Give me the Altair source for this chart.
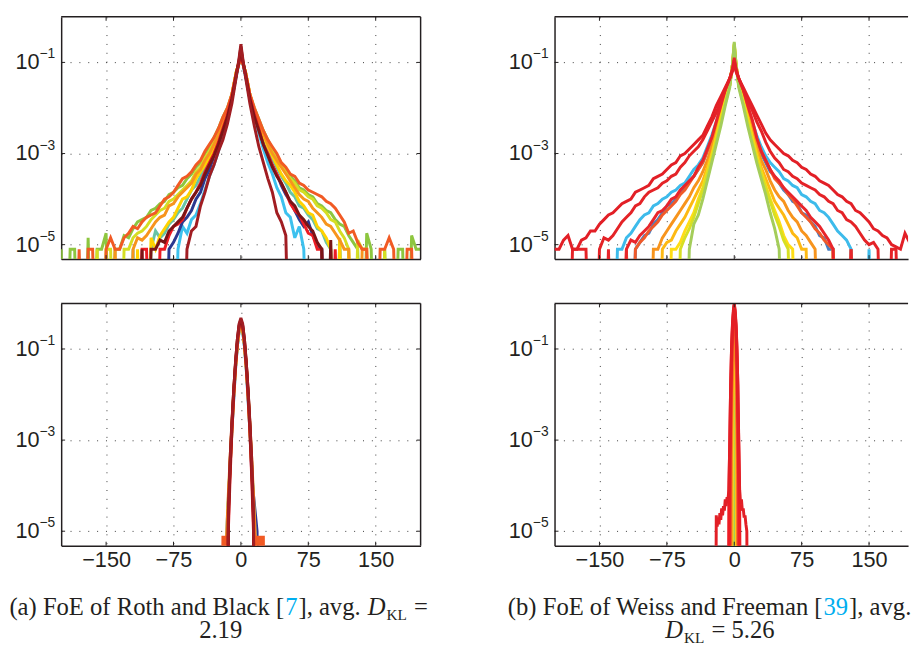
import altair as alt
import pandas as pd

FONT = "Liberation Sans"
SERIF = "Liberation Serif"
INK = "#231F20"
GRID = "#3a3a3a"
CYAN = "#00AEEF"

X_TICKS = [-150, -75, 0, 75, 150]
Y_TICKS = [1e-1, 1e-3, 1e-5]
Y_EXPONENTS = ["\u22121", "\u22123", "\u22125"]
Y_DOMAIN = [10 ** -5.317, 1.0]

# distance from the centre (both sides) for the two upper panels
XG = [2, 5, 10, 15, 20, 25, 30, 35, 40, 45, 50, 55, 60, 65, 70, 75, 80, 85, 90, 95, 100,
      105, 110, 115, 120, 125, 130, 135, 140, 145, 150, 155, 160, 165, 170, 175, 180, 185, 190, 195, 200]

# ---------------- (a) upper: log10 density ----------------
TL_COLORS = ["#3DC1EE", "#2B3990", "#67C4A6", "#FFD200", "#8DC63F", "#D5DE23",
             "#F7941D", "#F15A24", "#ED1C24", "#7A1416", "#A11D22"]
TL_PEAK = [-0.8, -0.8, -0.8, -0.8, -0.8, -0.8, -0.8, -0.75, -0.7, -0.65, -0.6]
TL_LEFT = [
    [-1.0, -1.3, -1.8, -2.25, -2.6, -2.95, -3.25, -3.5, -3.8, -4.1, -4.35, -4.45, -4.75, -4.6, -5.1, -9],
    [-1.0, -1.25, -1.8, -2.2, -2.5, -2.8, -3.05, -3.35, -3.55, -3.85, -4.0, -4.25, -4.4, -4.5, -4.75, -4.95, -5.1, -9],
    [-1.0, -1.25, -1.75, -2.1, -2.4, -2.7, -2.9, -3.15, -3.3, -3.5, -3.7, -3.8, -4.0, -4.2, -4.3, -4.45, -4.55,
     -4.75, -4.85, -4.7, -5.1, -9, -9, -9, -5.1, -9],
    [-1.0, -1.2, -1.75, -2.1, -2.35, -2.65, -2.85, -3.1, -3.25, -3.4, -3.55, -3.8, -3.95, -4.0, -4.2, -4.4, -4.5,
     -4.65, -4.8, -5.1, -4.85, -9, -9, -5.1, -9],
    [-1.0, -1.2, -1.7, -2.0, -2.2, -2.45, -2.65, -2.85, -3.0, -3.2, -3.3, -3.45, -3.55, -3.7, -3.75, -3.85, -3.9,
     -4.05, -4.1, -4.2, -4.25, -4.4, -4.45, -4.5, -4.65, -4.85, -4.8, -5.1, -5.1, -9, -4.75, -5.1, -5.1, -9,
     -4.85, -9, -9, -5.1, -5.1, -9, -5.1],
    [-1.0, -1.2, -1.7, -2.05, -2.3, -2.55, -2.75, -2.95, -3.1, -3.3, -3.4, -3.6, -3.7, -3.8, -3.9, -4.0, -4.05,
     -4.2, -4.25, -4.35, -4.45, -4.6, -4.7, -4.75, -4.85, -5.1, -5.1, -9, -9, -5.1, -5.1, -9, -5.1, -9],
    [-1.0, -1.2, -1.7, -2.05, -2.3, -2.6, -2.8, -3.0, -3.15, -3.35, -3.45, -3.65, -3.75, -3.85, -3.95, -4.1,
     -4.15, -4.35, -4.4, -4.5, -4.65, -4.8, -4.9, -4.85, -5.1, -9, -9, -9, -5.1, -9],
    [-1.0, -1.2, -1.7, -2.0, -2.2, -2.45, -2.65, -2.8, -2.95, -3.15, -3.25, -3.4, -3.5, -3.55, -3.7, -3.85,
     -3.95, -4.0, -4.15, -4.3, -4.35, -4.4, -4.5, -4.65, -4.6, -4.75, -4.85, -5.1, -5.1, -4.85, -5.1, -9, -9,
     -5.1, -5.1, -9, -5.1, -9],
    [-1.0, -1.25, -1.75, -2.15, -2.45, -2.75, -3.0, -3.2, -3.4, -3.65, -3.85, -4.0, -4.2, -4.45, -4.55, -4.6,
     -4.8, -5.1, -5.1, -9, -9, -5.1, -5.1, -9],
    [-0.95, -1.25, -1.8, -2.2, -2.5, -2.8, -3.05, -3.25, -3.45, -3.7, -3.85, -4.0, -4.2, -4.4, -4.5, -4.6,
     -4.7, -4.95, -4.9, -5.1, -5.1, -9, -5.1, -9],
    [-0.9, -1.3, -1.9, -2.35, -2.7, -2.95, -3.25, -3.5, -3.85, -4.15, -4.6, -4.7, -5.1, -9],
]
TL_RIGHT = [
    [-1.0, -1.3, -1.8, -2.2, -2.55, -2.9, -3.2, -3.45, -3.75, -3.95, -4.3, -4.4, -4.85, -4.6, -5.1, -9, -9, -9,
     -5.1, -9, -9, -9, -5.1, -9],
    [-1.0, -1.25, -1.75, -2.15, -2.45, -2.75, -3.0, -3.25, -3.45, -3.7, -3.9, -4.05, -4.25, -4.45, -4.6, -4.5,
     -4.8, -5.0, -5.1, -9],
    [-1.0, -1.25, -1.75, -2.1, -2.4, -2.65, -2.9, -3.1, -3.3, -3.5, -3.65, -3.85, -3.95, -4.15, -4.2, -4.35,
     -4.45, -4.65, -4.7, -4.95, -5.1, -9, -4.9, -9],
    [-1.0, -1.2, -1.75, -2.1, -2.35, -2.6, -2.85, -3.05, -3.25, -3.45, -3.6, -3.7, -3.85, -4.05, -4.15, -4.3,
     -4.35, -4.6, -4.7, -4.85, -5.1, -9, -4.85, -9, -5.1, -9],
    [-1.0, -1.2, -1.7, -2.0, -2.25, -2.5, -2.7, -2.9, -3.05, -3.25, -3.35, -3.5, -3.6, -3.75, -3.8, -3.9, -3.95,
     -4.1, -4.15, -4.25, -4.3, -4.45, -4.55, -4.6, -4.8, -4.95, -5.1, -9, -4.75, -5.1, -9, -9, -5.1, -9, -9,
     -5.1, -5.1, -9, -4.8, -5.1, -5.1],
    [-1.0, -1.2, -1.7, -2.05, -2.3, -2.5, -2.75, -2.95, -3.1, -3.25, -3.4, -3.55, -3.65, -3.8, -3.85, -3.95,
     -4.0, -4.15, -4.2, -4.3, -4.45, -4.5, -4.7, -4.85, -5.1, -9, -4.9, -5.1, -5.1, -9, -9, -9, -5.1, -9],
    [-1.0, -1.2, -1.7, -2.05, -2.3, -2.55, -2.8, -3.0, -3.15, -3.3, -3.45, -3.6, -3.75, -3.9, -4.0, -4.05,
     -4.2, -4.3, -4.4, -4.55, -4.6, -4.75, -4.9, -5.1, -5.1, -9, -9, -5.1, -5.1, -9],
    [-1.0, -1.2, -1.7, -2.0, -2.25, -2.5, -2.7, -2.85, -3.0, -3.2, -3.3, -3.45, -3.5, -3.65, -3.7, -3.8, -3.85,
     -3.9, -3.95, -4.05, -4.1, -4.2, -4.35, -4.5, -4.75, -4.7, -4.95, -5.1, -5.1, -9, -9, -5.1, -5.1, -4.85,
     -5.1, -9, -9, -5.1, -5.1, -9, -9],
    [-1.0, -1.25, -1.75, -2.15, -2.45, -2.8, -3.0, -3.25, -3.45, -3.65, -3.85, -4.1, -4.25, -4.35, -4.55,
     -4.75, -4.8, -5.1, -5.1, -9, -9, -5.1, -9],
    [-0.95, -1.25, -1.8, -2.2, -2.5, -2.8, -3.05, -3.3, -3.5, -3.65, -3.85, -4.05, -4.15, -4.35, -4.45, -4.6,
     -4.7, -4.95, -5.1, -9, -4.9, -9],
    [-0.9, -1.3, -1.9, -2.4, -2.85, -3.2, -3.55, -3.85, -4.3, -4.5, -4.8, -9],
]

# ---------------- (b) upper ----------------
TR_COLORS = ["#4A7FC1", "#3DBBEB", "#F15A29", "#F7941D", "#FDB913", "#FFDD15",
             "#D7DF23", "#A4CD5A", "#E8252B", "#E42327", "#E21F26"]
TR_PEAK = [-0.8, -0.8, -0.75, -0.7, -0.62, -0.6, -0.58, -0.55, -0.9, -0.95, -1.0]
TR_LEFT = [
    [-1.1, -1.45, -1.75, -2.05, -2.4, -2.7, -2.95, -3.2, -3.35, -3.5, -3.6, -3.75, -3.85, -4.0, -4.1, -4.15,
     -4.3, -4.45, -4.55, -4.75, -4.8, -4.95, -5.1, -9],
    [-1.1, -1.4, -1.7, -2.0, -2.3, -2.6, -2.85, -3.1, -3.25, -3.35, -3.5, -3.65, -3.7, -3.8, -3.85, -3.95,
     -4.0, -4.1, -4.15, -4.3, -4.35, -4.45, -4.6, -4.75, -4.85, -5.1, -5.1, -9],
    [-1.1, -1.45, -1.75, -2.05, -2.35, -2.7, -2.95, -3.2, -3.35, -3.5, -3.65, -3.8, -3.9, -4.05, -4.15, -4.25,
     -4.35, -4.5, -4.6, -4.7, -4.85, -4.95, -5.1, -9, -5.1, -9],
    [-1.05, -1.45, -1.8, -2.15, -2.5, -2.85, -3.15, -3.4, -3.6, -3.75, -3.95, -4.1, -4.25, -4.4, -4.55, -4.7,
     -4.85, -5.1, -5.1, -9],
    [-1.05, -1.5, -1.85, -2.2, -2.6, -3.0, -3.3, -3.6, -3.8, -4.0, -4.2, -4.4, -4.55, -4.7, -4.9, -4.95, -5.1, -9],
    [-1.05, -1.5, -1.85, -2.25, -2.65, -3.05, -3.4, -3.75, -4.0, -4.3, -4.5, -4.7, -4.95, -5.1, -5.1, -9],
    [-1.05, -1.5, -1.9, -2.3, -2.7, -3.1, -3.45, -3.8, -4.1, -4.4, -4.65, -4.85, -5.1, -9],
    [-1.05, -1.55, -1.95, -2.4, -2.8, -3.2, -3.6, -4.0, -4.35, -4.55, -5.1, -9],
    [-1.15, -1.35, -1.6, -1.95, -2.3, -2.65, -2.9, -3.15, -3.3, -3.5, -3.6, -3.7, -3.8, -3.95, -4.0, -4.15,
     -4.25, -4.3, -4.45, -4.6, -4.7, -4.8, -4.95, -4.9, -5.1, -9, -9, -9, -5.1, -9],
    [-1.15, -1.35, -1.6, -1.85, -2.1, -2.3, -2.5, -2.7, -2.85, -2.95, -3.05, -3.2, -3.3, -3.45, -3.5, -3.6,
     -3.65, -3.75, -3.8, -3.85, -3.95, -4.1, -4.15, -4.3, -4.4, -4.5, -4.65, -4.8, -4.9, -4.85, -5.1, -9, -9,
     -5.1, -5.1, -5.1, -5.1, -9],
    [-1.2, -1.35, -1.55, -1.75, -1.95, -2.2, -2.4, -2.6, -2.7, -2.8, -2.9, -3.0, -3.05, -3.2, -3.25, -3.35,
     -3.45, -3.5, -3.55, -3.7, -3.75, -3.8, -3.85, -4.0, -4.05, -4.1, -4.2, -4.3, -4.35, -4.45, -4.55, -4.7,
     -4.7, -4.85, -4.9, -5.1, -5.1, -4.8, -4.9, -5.1, -5.1],
]
TR_RIGHT = [
    [-1.1, -1.45, -1.75, -2.05, -2.4, -2.75, -3.0, -3.2, -3.4, -3.5, -3.65, -3.8, -3.9, -4.05, -4.1, -4.3,
     -4.35, -4.5, -4.6, -4.8, -4.85, -5.1, -5.1, -9, -9, -9, -5.1, -9],
    [-1.1, -1.4, -1.7, -2.0, -2.3, -2.6, -2.85, -3.05, -3.2, -3.3, -3.4, -3.55, -3.6, -3.7, -3.75, -3.9,
     -3.95, -4.05, -4.1, -4.25, -4.3, -4.4, -4.55, -4.7, -4.8, -4.9, -5.1, -9, -9, -9, -5.1, -9],
    [-1.1, -1.45, -1.75, -2.05, -2.35, -2.7, -2.95, -3.15, -3.35, -3.55, -3.65, -3.75, -3.9, -4.0, -4.15,
     -4.3, -4.4, -4.5, -4.65, -4.75, -4.9, -5.0, -5.1, -9, -9, -9, -5.1, -9],
    [-1.05, -1.45, -1.8, -2.15, -2.5, -2.85, -3.15, -3.35, -3.6, -3.8, -3.95, -4.05, -4.25, -4.4, -4.5, -4.7,
     -4.8, -4.95, -5.1, -9, -9, -9, -5.1, -9],
    [-1.05, -1.5, -1.85, -2.2, -2.6, -2.95, -3.3, -3.55, -3.8, -4.05, -4.2, -4.35, -4.55, -4.75, -4.85, -5.1,
     -5.1, -9],
    [-1.05, -1.5, -1.85, -2.25, -2.65, -3.05, -3.4, -3.7, -4.0, -4.25, -4.5, -4.8, -5.0, -5.1, -9],
    [-1.05, -1.5, -1.9, -2.3, -2.7, -3.1, -3.45, -3.75, -4.05, -4.35, -4.6, -4.9, -5.1, -9],
    [-1.05, -1.55, -1.95, -2.4, -2.8, -3.2, -3.55, -3.9, -4.3, -4.65, -5.1, -9],
    [-1.15, -1.35, -1.6, -1.95, -2.25, -2.65, -2.95, -3.15, -3.35, -3.5, -3.6, -3.75, -3.85, -3.95, -4.05,
     -4.15, -4.25, -4.4, -4.5, -4.6, -4.75, -4.9, -5.1, -9, -9, -9, -5.1, -9],
    [-1.15, -1.35, -1.6, -1.85, -2.05, -2.3, -2.5, -2.75, -2.95, -3.1, -3.2, -3.35, -3.4, -3.5, -3.55, -3.65,
     -3.7, -3.75, -3.8, -3.9, -3.95, -4.05, -4.1, -4.25, -4.3, -4.45, -4.5, -4.6, -4.75, -4.9, -5.0, -4.95,
     -5.1, -9, -9, -5.1, -5.1, -9],
    [-1.2, -1.35, -1.55, -1.75, -1.95, -2.15, -2.35, -2.55, -2.7, -2.8, -2.9, -3.0, -3.05, -3.15, -3.2, -3.3,
     -3.35, -3.45, -3.5, -3.6, -3.65, -3.7, -3.8, -3.9, -3.95, -4.05, -4.1, -4.25, -4.3, -4.4, -4.5, -4.65,
     -4.7, -4.8, -4.85, -5.0, -5.05, -5.1, -4.75, -4.95, -5.1],
]

# ---------------- (a) lower ----------------
BL_COLORS = ["#2E3192", "#3DC1EE", "#C8D92B", "#FFD200", "#F7941D", "#F15A24", "#ED1C24", "#7A1416", "#A11D22"]
BL_X = [
    [-16, -14, -12, -10, -8, -6, -4, -2, 0, 2, 4, 6, 8, 10, 12, 14, 16, 18, 20],
    [-18, -16, -14, -12, -10, -8, -6, -4, -2, 0, 2, 4, 6, 8, 10, 12, 14, 16, 18],
    [-16, -14, -12, -10, -8, -6, -4, -2, 0, 2, 4, 6, 8, 10, 12, 14, 16],
    [-16, -14, -12, -10, -8, -6, -4, -2, 0, 2, 4, 6, 8, 10, 12, 14, 16],
    [-17, -16, -14, -12, -10, -8, -6, -4, -2, 0, 2, 4, 6, 8, 10, 12, 14, 16, 17],
    [-21, -20, -19, -18, -17, -16, -15, -14, -12, -10, -8, -6, -4, -2, 0, 2, 4, 6, 8, 10, 12, 14,
     15, 16, 17, 18, 19, 20, 21, 22, 23, 24, 25, 26],
    [-16, -14, -12, -10, -8, -6, -4, -2, 0, 2, 4, 6, 8, 10, 12, 14, 16],
    [-15, -14, -12, -10, -8, -6, -4, -2, 0, 2, 4, 6, 8, 10, 12, 14, 15],
    [-15, -14, -12, -10, -8, -6, -4, -2, 0, 2, 4, 6, 8, 10, 12, 14, 15],
]
BL_V = [
    [-9, -4.4, -3.6, -2.8, -2.1, -1.45, -0.95, -0.6, -0.45, -0.6, -0.95, -1.45, -2.1, -2.8, -3.7, -4.2, -4.6, -5.0, -9],
    [-9, -5.1, -4.3, -3.5, -2.75, -2.05, -1.4, -0.95, -0.6, -0.45, -0.6, -0.95, -1.4, -2.05, -2.75, -3.5, -4.3, -5.1, -9],
    [-9, -4.4, -3.5, -2.7, -2.0, -1.4, -0.9, -0.6, -0.45, -0.6, -0.9, -1.4, -2.0, -2.7, -3.5, -4.4, -9],
    [-9, -4.5, -3.6, -2.8, -2.0, -1.4, -0.9, -0.55, -0.42, -0.55, -0.9, -1.4, -2.0, -2.8, -3.6, -4.5, -9],
    [-9, -5.1, -4.2, -3.4, -2.65, -1.95, -1.35, -0.9, -0.55, -0.4, -0.55, -0.9, -1.35, -1.95, -2.65, -3.4, -4.2, -5.1, -9],
    [-9, -5.1, -9, -5.1, -9, -5.1, -9, -4.6, -3.5, -2.7, -2.0, -1.4, -0.9, -0.55, -0.4, -0.55, -0.9, -1.4, -2.0, -2.7, -3.5, -4.6,
     -5.1, -9, -5.1, -9, -5.1, -9, -5.1, -9, -5.1, -9, -5.1, -9],
    [-9, -5.0, -3.8, -2.8, -2.0, -1.35, -0.85, -0.5, -0.38, -0.5, -0.85, -1.35, -2.0, -2.8, -3.8, -5.0, -9],
    [-9, -4.8, -3.6, -2.65, -1.9, -1.3, -0.8, -0.48, -0.36, -0.48, -0.8, -1.3, -1.9, -2.65, -3.6, -4.8, -9],
    [-9, -4.6, -3.4, -2.6, -1.9, -1.3, -0.8, -0.45, -0.32, -0.45, -0.8, -1.3, -1.9, -2.6, -3.4, -4.6, -9],
]

# ---------------- (b) lower ----------------
BR_COLORS = ["#A4CD5A", "#FFDD15", "#F7941D", "#F15A29", "#E8252B", "#ED1C24", "#E21F26"]
BR_X = [
    [-2, -1, 0, 1, 2],
    [-3, -2, -1, 0, 1, 2, 3],
    [-4, -3, -2, -1, 0, 1, 2, 3, 4],
    [-5, -4, -3, -2, -1, 0, 1, 2, 3, 4, 5],
    [-6, -5, -4, -3, -2, -1, 0, 1, 2, 3, 4, 5, 6],
    [-7, -6, -5, -4, -3, -2, -1, 0, 1, 2, 3, 4, 5, 6, 7],
    [-21, -20, -19, -18, -17, -16, -15, -14, -13, -12, -11, -10, -9, -8, -7, -6, -5, -4, -3, -2, -1, 0,
     1, 2, 3, 4, 5, 6, 7, 8, 9, 10, 11, 12, 13, 14, 15],
]
BR_V = [
    [-9, -1.2, -0.3, -1.2, -9],
    [-9, -2.2, -0.9, -0.25, -0.9, -2.2, -9],
    [-9, -3.2, -1.6, -0.7, -0.2, -0.7, -1.6, -3.4, -9],
    [-9, -3.4, -1.9, -0.9, -0.35, -0.1, -0.35, -0.9, -1.9, -3.4, -9],
    [-9, -4.3, -2.6, -1.3, -0.6, -0.25, -0.05, -0.25, -0.6, -1.3, -2.6, -4.3, -9],
    [-9, -4.2, -3.0, -1.8, -1.0, -0.5, -0.2, -0.02, -0.2, -0.5, -1.0, -1.8, -3.0, -4.2, -9],
    [-9, -4.65, -4.9, -4.7, -4.85, -4.6, -4.75, -4.5, -4.65, -4.45, -4.55, -4.3, -4.45, -4.25, -4.3, -4.1,
     -3.1, -1.8, -0.95, -0.45, -0.15, 0.0, -0.15, -0.45, -0.95, -1.8, -3.1, -4.1, -4.4, -4.3, -4.55, -4.5,
     -4.7, -4.65, -4.85, -5.0, -9],
]


def sym_frame(prefix, peaks, lefts, rights):
    rows = []
    for i, (p, left, right) in enumerate(zip(peaks, lefts, rights)):
        k = f"{prefix}{i:02d}"
        for xv, v in zip(XG, left):
            rows.append({"s": k, "x": -xv, "y": 10.0 ** v})
        rows.append({"s": k, "x": 0, "y": 10.0 ** p})
        for xv, v in zip(XG, right):
            rows.append({"s": k, "x": xv, "y": 10.0 ** v})
    return pd.DataFrame(rows)


def pair_frame(prefix, xs, vs):
    rows = []
    for i, (xl, vl) in enumerate(zip(xs, vs)):
        k = f"{prefix}{i:02d}"
        for xv, v in zip(xl, vl):
            rows.append({"s": k, "x": xv, "y": 10.0 ** v})
    return pd.DataFrame(rows)


ONE = pd.DataFrame({"a": [0]})
H = 246
W_L = 365
W_R = 359
GAP_X = 136
GAP_Y = 45
TICK = 4
X_DOM_L = [-200, 200]
X_DOM_R = [-200, -200 + W_R * 400 / W_L]


def panel(df, colors, width, xdom, xlabels, right_border):
    keys = sorted(df["s"].unique())
    xenc = alt.X("x:Q", scale=alt.Scale(domain=xdom, nice=False, zero=False),
                 axis=alt.Axis(values=X_TICKS, grid=True, labels=xlabels, ticks=False, tickSize=0,
                               domain=True, title=None, gridDash=[1, 8], gridColor=GRID, gridWidth=1,
                               domainColor=INK, domainWidth=1.5, labelFont=FONT, labelFontSize=22,
                               labelColor=INK, labelPadding=4, labelFlush=False, labelOverlap=False))
    yenc = alt.Y("y:Q", scale=alt.Scale(type="log", domain=Y_DOMAIN, nice=False),
                 axis=alt.Axis(values=Y_TICKS, grid=True, labels=False, ticks=False, tickSize=0,
                               domain=True, title=None, gridDash=[1, 8], gridColor=GRID, gridWidth=1,
                               domainColor=INK, domainWidth=1.5))
    lines = alt.Chart(df).mark_line(clip=True, strokeWidth=3, strokeMiterLimit=3).encode(
        x=xenc, y=yenc,
        color=alt.Color("s:N", scale=alt.Scale(domain=keys, range=colors), legend=None),
    )
    lab_df = pd.DataFrame({"y": Y_TICKS, "e": Y_EXPONENTS})
    lab10 = alt.Chart(lab_df).mark_text(align="right", baseline="middle", font=FONT, fontSize=22,
                                        color=INK).encode(y=yenc, x=alt.value(-22), text=alt.value("10"))
    labexp = alt.Chart(lab_df).mark_text(align="left", baseline="middle", font=FONT, fontSize=14,
                                         color=INK, dy=-8).encode(y=yenc, x=alt.value(-22), text="e:N")
    # inward tick marks (MATLAB style)
    xt = pd.DataFrame({"x": X_TICKS})
    ticks_bottom = alt.Chart(xt).mark_rule(color=INK, strokeWidth=1).encode(
        x=xenc, y=alt.value(H), y2=alt.value(H - TICK))
    ticks_top = alt.Chart(xt).mark_rule(color=INK, strokeWidth=1).encode(
        x=xenc, y=alt.value(0), y2=alt.value(TICK))
    ticks_left = alt.Chart(lab_df).mark_rule(color=INK, strokeWidth=1).encode(
        y=yenc, x=alt.value(0), x2=alt.value(TICK))
    top = alt.Chart(ONE).mark_rule(color=INK, strokeWidth=1.5).encode(
        x=alt.value(0), x2=alt.value(width), y=alt.value(0))
    layers = [lines, lab10, labexp, ticks_bottom, ticks_top, ticks_left, top]
    if right_border:
        layers.append(alt.Chart(lab_df).mark_rule(color=INK, strokeWidth=1).encode(
            y=yenc, x=alt.value(width - TICK), x2=alt.value(width)))
        layers.append(alt.Chart(ONE).mark_rule(color=INK, strokeWidth=1.5).encode(
            x=alt.value(width), y=alt.value(0), y2=alt.value(H)))
    return alt.layer(*layers).properties(width=width, height=H)


tl = panel(sym_frame("a", TL_PEAK, TL_LEFT, TL_RIGHT), TL_COLORS, W_L, X_DOM_L, False, True)
tr = panel(sym_frame("b", TR_PEAK, TR_LEFT, TR_RIGHT), TR_COLORS, W_R, X_DOM_R, False, False)
bl = panel(pair_frame("c", BL_X, BL_V), BL_COLORS, W_L, X_DOM_L, True, True)
br = panel(pair_frame("d", BR_X, BR_V), BR_COLORS, W_R, X_DOM_R, True, False)

# ---------------- captions ----------------
TIMES = {'(': 333, ')': 333, 'a': 444, 'b': 500, ' ': 250, 'F': 556, 'o': 500, 'E': 611, 'f': 333,
         'R': 667, 't': 278, 'h': 500, 'n': 500, 'd': 500, 'B': 667, 'l': 278, 'c': 444, 'k': 500,
         '[': 333, ']': 333, '7': 500, ',': 250, 'v': 500, 'g': 500, '.': 250, 'W': 944, 'e': 444,
         'i': 278, 's': 389, 'r': 333, 'm': 778, '3': 500, '9': 500, '2': 500, '1': 500, '5': 500,
         '6': 500, '=': 564, 'D': 722, 'K': 722, 'L': 611}
CS = 25
JOIN = 1.0   # small gap between differently styled pieces
CAP_TOP = 592  # page y of the caption cells


def tw(s, size):
    return sum(TIMES.get(c, 500) for c in s) * size / 1000.0


def run(pieces, page_x, page_y, origin_x, center=False):
    """Lay out a line of differently styled pieces; the first piece is right-aligned
    against the second so the joint between them does not depend on width estimates."""
    sizes = [CS * 0.62 if st == "sub" else CS for _, st in pieces]
    total = sum(tw(t, fs) for (t, _), fs in zip(pieces, sizes)) + JOIN * (len(pieces) - 1)
    x = page_x - total / 2 if center else page_x
    out = []
    for i, ((t, st), fs) in enumerate(zip(pieces, sizes)):
        lead = len(t) - len(t.lstrip(" "))
        shown = t.strip(" ")
        first_anchor = i == 0 and len(pieces) > 1
        if first_anchor:
            px, al = x + tw(t.rstrip(" "), fs), "right"
        else:
            px, al = x + tw(" " * lead, fs), "left"
        if shown:
            out.append(alt.Chart(ONE).mark_text(
                align=al, baseline="alphabetic", font=SERIF, fontSize=fs,
                fontStyle="italic" if st == "it" else "normal",
                color=CYAN if st == "link" else INK,
                dy=CS * 0.2 if st == "sub" else 0,
            ).encode(x=alt.value(px - origin_x), y=alt.value(page_y - CAP_TOP), text=alt.value(shown)))
        x += tw(t, fs) + JOIN
    return out


OX_L, OX_R = 59, 59 + W_L + GAP_X
cap_a = run([("(a) FoE of Roth and Black [", "n"), ("7", "link"), ("], avg. ", "n"),
             ("D", "it"), ("KL", "sub"), (" = ", "n")], 222, 617, OX_L, center=True)
cap_a += run([("2.19", "n")], 221, 641, OX_L, center=True)
anchor = alt.Chart(ONE).mark_rule(color="white", strokeWidth=1).encode(
    x=alt.value(8 - OX_L), y=alt.value(0), y2=alt.value(2))
cap_left = alt.layer(anchor, *cap_a).properties(width=W_L, height=55)

cap_b = run([("(b) FoE of Weiss and Freeman [", "n"), ("39", "link"), ("], avg.", "n")], 510, 617, OX_R)
cap_b += run([("D", "it"), ("KL", "sub"), (" = 5.26", "n")], 728, 641, OX_R, center=True)
cap_right = alt.layer(*cap_b).properties(width=W_R, height=55)

chart = alt.concat(
    tl, tr, bl, br, cap_left, cap_right,
    columns=2, spacing={"row": GAP_Y, "column": GAP_X}, bounds="flush",
).resolve_scale(color="independent").properties(
    padding={"left": 0, "right": 0, "top": 2, "bottom": 0},
    background="white",
).configure_view(stroke="transparent")

chart.save("out.html", embed_options={"renderer": "svg", "actions": False})
